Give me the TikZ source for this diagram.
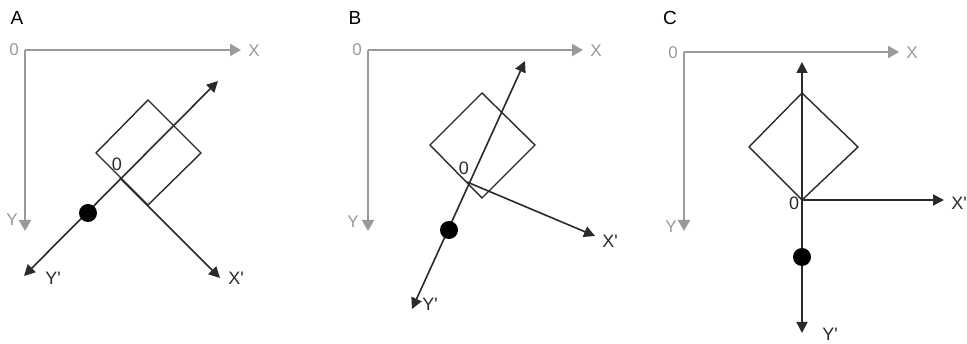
\documentclass[tikz,border=0pt]{standalone}
\usepackage{fontspec}
\setmainfont{Liberation Sans}[Ligatures=TeXOff]
\usetikzlibrary{arrows.meta}
\definecolor{axgray}{HTML}{9A9A9A}
\definecolor{ink}{HTML}{2A2A2A}
\tikzset{
  gaxis/.style={draw=axgray, line width=2.2pt, -{Triangle[length=11pt,width=12pt]}},
  baxis/.style={draw=ink, line width=1.6pt, -{Triangle[length=11pt,width=11pt]}},
  bboth/.style={draw=ink, line width=1.6pt, {Triangle[length=11pt,width=11pt]}-{Triangle[length=11pt,width=11pt]}},
  sq/.style={draw=ink, line width=1.4pt},
  glab/.style={text=axgray, font=\fontsize{17}{17}\selectfont, inner sep=0pt},
  blab/.style={text=ink, font=\fontsize{18}{18}\selectfont, inner sep=0pt},
  panlab/.style={text=black, font=\fontsize{19}{19}\selectfont, inner sep=0pt},
  dot/.style={fill=black, circle, inner sep=0pt, minimum size=18pt},
}
\begin{document}
\begin{tikzpicture}[x=1pt,y=-1pt]
\useasboundingbox (0,0) rectangle (967,344);
\fill[white] (0,0) rectangle (967,344);

% ---------- Panel A ----------
\node[panlab] (labA) at (17,18) {A};
\coordinate (cA) at (25,50);
\coordinate (xA) at (241,50);
\coordinate (yA) at (25,231);
\draw[gaxis] (cA) -- (xA);
\draw[gaxis] (cA) -- (yA);
\node[glab] (oA) at (14,50) {0};
\node[glab] (XA) at (254,51) {X};
\node[glab] (YA) at (12,220) {Y};
\draw[sq] (96,153) -- (148,100) -- (201,153) -- (148,205) -- cycle;
\coordinate (OA) at (120,178);
\coordinate (xpA) at (220,278);
\coordinate (ytA) at (218,81);
\coordinate (ybA) at (24,276);
\draw[bboth] (ybA) -- (ytA);
\draw[baxis] (OA) -- (xpA);
\node[dot] (dA) at (88,213) {};
\node[blab] (zA) at (117,164) {0};
\node[blab] (XpA) at (236,278) {X'};
\node[blab] (YpA) at (53,278) {Y'};

% ---------- Panel B ----------
\node[panlab] (labB) at (355,18) {B};
\coordinate (cB) at (368,50);
\coordinate (xB) at (583,50);
\coordinate (yB) at (368,231);
\draw[gaxis] (cB) -- (xB);
\draw[gaxis] (cB) -- (yB);
\node[glab] (oB) at (357,50) {0};
\node[glab] (XB) at (596,51) {X};
\node[glab] (YB) at (353,222) {Y};
\draw[sq] (430,145) -- (482,93) -- (535,145) -- (482,198) -- cycle;
\coordinate (OB) at (467,182);
\coordinate (xpB) at (595,236);
\coordinate (ytB) at (525,61);
\coordinate (ybB) at (412,309);
\draw[bboth] (ybB) -- (ytB);
\draw[baxis] (OB) -- (xpB);
\node[dot] (dB) at (449,230) {};
\node[blab] (zB) at (464,168) {0};
\node[blab] (XpB) at (610,241) {X'};
\node[blab] (YpB) at (430,304) {Y'};

% ---------- Panel C ----------
\node[panlab] (labC) at (670,18) {C};
\coordinate (cC) at (684,52);
\coordinate (xC) at (899,52);
\coordinate (yC) at (684,231);
\draw[gaxis] (cC) -- (xC);
\draw[gaxis] (cC) -- (yC);
\node[glab] (oC) at (673,53) {0};
\node[glab] (XC) at (912,53) {X};
\node[glab] (YC) at (671,227) {Y};
\draw[sq] (749,147) -- (802,93) -- (858,147) -- (802,200) -- cycle;
\coordinate (OC) at (802,200);
\coordinate (xpC) at (944,200);
\coordinate (ytC) at (802,62);
\coordinate (ybC) at (802,333);
\draw[bboth] (ybC) -- (ytC);
\draw[baxis] (OC) -- (xpC);
\node[dot] (dC) at (802,257) {};
\node[blab] (zC) at (794,203) {0};
\node[blab] (XpC) at (959,203) {X'};
\node[blab] (YpC) at (830,334) {Y'};
\end{tikzpicture}
\end{document}
